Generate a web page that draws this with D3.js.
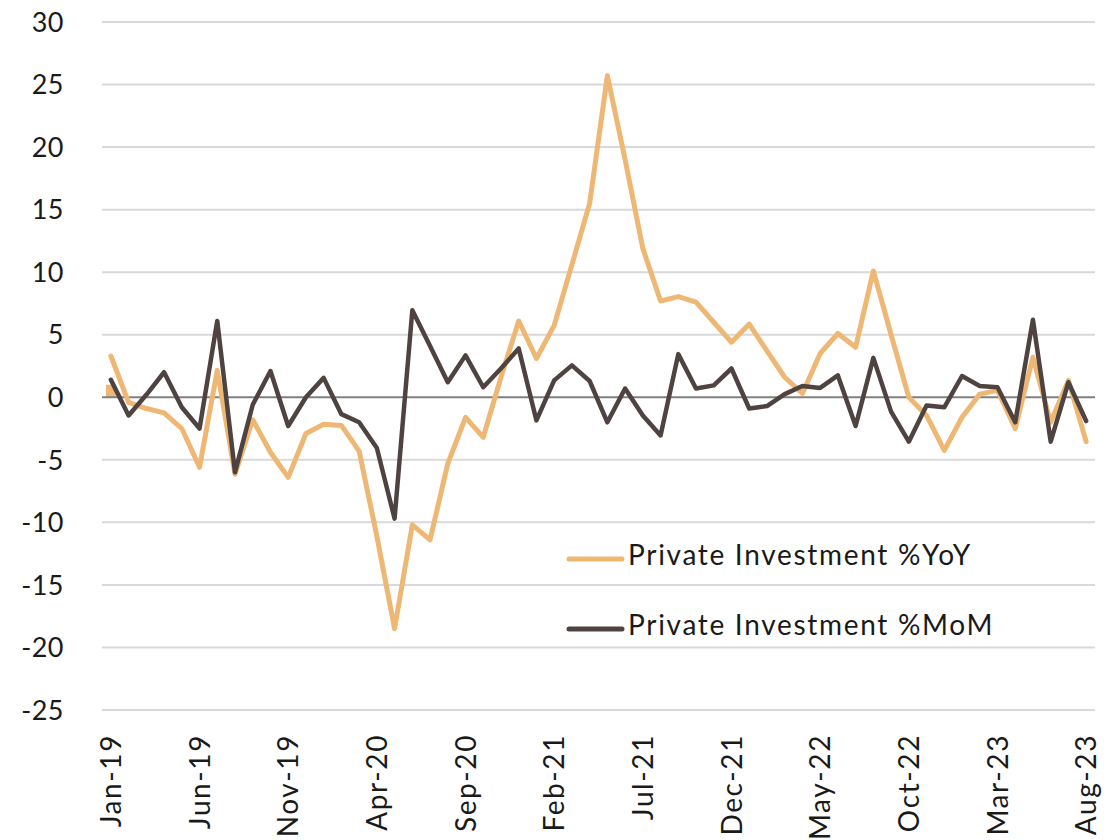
<!DOCTYPE html>
<html>
<head>
<meta charset="utf-8">
<script src="https://cdn.jsdelivr.net/npm/d3@7"></script>
<style>
  body { margin: 0; background: #fff; }
  svg text { font-family: Lato, "Noto Sans", sans-serif; fill: #1a1a1a; }
</style>
</head>
<body>
<svg id="chart" width="1117" height="840"></svg>
<script>
// --- data ---
var months = [
  "Jan-19","Feb-19","Mar-19","Apr-19","May-19","Jun-19","Jul-19","Aug-19","Sep-19","Oct-19","Nov-19","Dec-19",
  "Jan-20","Feb-20","Mar-20","Apr-20","May-20","Jun-20","Jul-20","Aug-20","Sep-20","Oct-20","Nov-20","Dec-20",
  "Jan-21","Feb-21","Mar-21","Apr-21","May-21","Jun-21","Jul-21","Aug-21","Sep-21","Oct-21","Nov-21","Dec-21",
  "Jan-22","Feb-22","Mar-22","Apr-22","May-22","Jun-22","Jul-22","Aug-22","Sep-22","Oct-22","Nov-22","Dec-22",
  "Jan-23","Feb-23","Mar-23","Apr-23","May-23","Jun-23","Jul-23","Aug-23"
];

var yoy = [
  3.3, -0.4, -0.9, -1.25, -2.5, -5.6, 2.15, -6.15, -1.8, -4.4, -6.4, -2.9,
  -2.15, -2.25, -4.3, -11.1, -18.5, -10.2, -11.4, -5.3, -1.6, -3.2, 1.6, 6.1,
  3.1, 5.75, 10.6, 15.5, 25.7, 19.0, 11.9, 7.7, 8.05, 7.6, 6.0, 4.4,
  5.85, 3.7, 1.6, 0.3, 3.5, 5.1, 4.0, 10.1, 5.0, 0.0, -1.45, -4.25,
  -1.6, 0.25, 0.55, -2.5, 3.2, -2.0, 1.35, -3.55
];

var mom = [
  1.4, -1.45, 0.2, 2.0, -0.8, -2.5, 6.1, -6.0, -0.6, 2.1, -2.3, 0.0,
  1.55, -1.35, -2.0, -4.05, -9.7, 6.95, 4.1, 1.2, 3.35, 0.8, 2.3, 3.9,
  -1.85, 1.35, 2.55, 1.3, -2.0, 0.7, -1.45, -3.05, 3.45, 0.7, 0.95, 2.3,
  -0.9, -0.7, 0.25, 0.9, 0.75, 1.75, -2.3, 3.15, -1.15, -3.55, -0.65, -0.8,
  1.7, 0.9, 0.8, -2.0, 6.2, -3.55, 1.2, -1.9
];

// small orange column that shows at the first month only
var colMonths = ["Jan-19"];
var colValues = [1.0];

var yTicks = [30, 25, 20, 15, 10, 5, 0, -5, -10, -15, -20, -25];
var xTickLabels = ["Jan-19","Jun-19","Nov-19","Apr-20","Sep-20","Feb-21","Jul-21","Dec-21","May-22","Oct-22","Mar-23","Aug-23"];

var seriesNames = ["Private Investment %YoY", "Private Investment %MoM"];
var colorYoY = "#efb774";
var colorMoM = "#4f4341";

// --- scales ---
var svg = d3.select("#chart");

var x = d3.scaleBand()
    .domain(months)
    .range([102, 1095]);

var y = d3.scaleLinear()
    .domain([-25, 30])
    .range([710, 22]);

function cx(m) { return x(m) + x.bandwidth() / 2; }

// --- grid ---
var grid = svg.append("g");
grid.selectAll("line")
    .data(yTicks.filter(function(t) { return t !== 0; }))
    .enter()
    .append("line")
    .attr("x1", 102).attr("x2", 1095)
    .attr("y1", function(d) { return y(d); })
    .attr("y2", function(d) { return y(d); })
    .attr("stroke", "#d9d9d9")
    .attr("stroke-width", 2);

// y labels
svg.append("g").selectAll("text")
    .data(yTicks)
    .enter()
    .append("text")
    .attr("x", 64)
    .attr("y", function(d) { return y(d); })
    .attr("dy", "0.36em")
    .attr("text-anchor", "end")
    .style("font-size", "27px")
    .style("letter-spacing", "0.5px")
    .text(function(d) { return d; });

// column
svg.append("g").selectAll("rect")
    .data(colMonths.map(function(m, i) { return { m: m, v: colValues[i] }; }))
    .enter()
    .append("rect")
    .attr("x", function(d) { return cx(d.m) - 5; })
    .attr("width", 10)
    .attr("y", function(d) { return y(d.v); })
    .attr("height", function(d) { return y(0) - y(d.v); })
    .attr("fill", colorYoY);

// zero line
svg.append("line")
    .attr("x1", 102).attr("x2", 1095)
    .attr("y1", y(0)).attr("y2", y(0))
    .attr("stroke", "#808080")
    .attr("stroke-width", 2);

// x labels
svg.append("g").selectAll("text")
    .data(xTickLabels)
    .enter()
    .append("text")
    .attr("transform", function(d) { return "translate(" + cx(d) + ",734) rotate(-90)"; })
    .attr("dy", "0.36em")
    .attr("text-anchor", "end")
    .style("font-size", "28px")
    .style("letter-spacing", "1.6px")
    .text(function(d) { return d; });

// --- lines ---
var line = d3.line()
    .x(function(d, i) { return cx(months[i]); })
    .y(function(d) { return y(d); });

svg.append("path")
    .datum(yoy)
    .attr("d", line)
    .attr("fill", "none")
    .attr("stroke", colorYoY)
    .attr("stroke-width", 5)
    .attr("stroke-linejoin", "round")
    .attr("stroke-linecap", "round");

svg.append("path")
    .datum(mom)
    .attr("d", line)
    .attr("fill", "none")
    .attr("stroke", colorMoM)
    .attr("stroke-width", 4.5)
    .attr("stroke-linejoin", "round")
    .attr("stroke-linecap", "round");

// --- legend ---
var legend = svg.append("g");
var legendColors = [colorYoY, colorMoM];
var legendY = [559, 629];
seriesNames.forEach(function(name, i) {
    legend.append("line")
        .attr("x1", 569).attr("x2", 622)
        .attr("y1", legendY[i]).attr("y2", legendY[i])
        .attr("stroke", legendColors[i])
        .attr("stroke-width", 5)
        .attr("stroke-linecap", "round");
    legend.append("text")
        .attr("x", 628)
        .attr("y", legendY[i] + 6)
        .style("font-size", "28px")
        .style("letter-spacing", "1.7px")
        .text(name);
});
</script>
</body>
</html>
